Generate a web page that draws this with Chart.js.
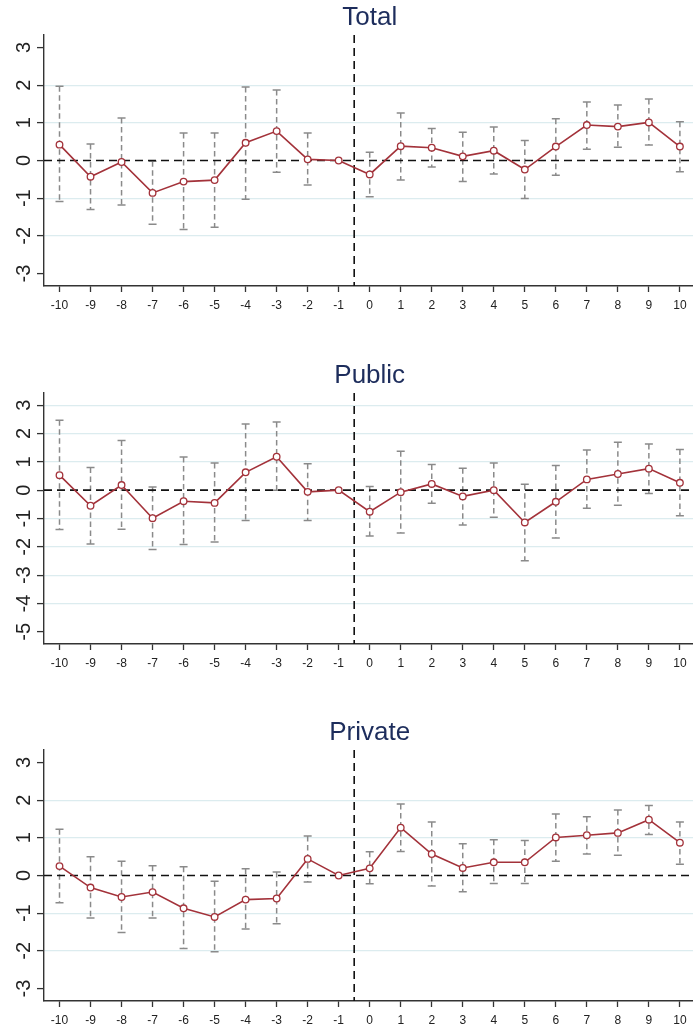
<!DOCTYPE html>
<html>
<head>
<meta charset="utf-8">
<title>Event-study estimates</title>
<script src="https://cdn.jsdelivr.net/npm/chart.js@4/dist/chart.umd.min.js"></script>
<style>
  html, body { margin: 0; padding: 0; background: #fff; overflow: hidden; width: 693px; height: 1030px; }
  .panel { position: absolute; left: 0; width: 700px; height: 320px; }
</style>
</head>
<body>
<div class="panel" style="top:0px"><canvas id="cTotal" width="700" height="320"></canvas></div>
<div class="panel" style="top:358px"><canvas id="cPublic" width="700" height="320"></canvas></div>
<div class="panel" style="top:715px"><canvas id="cPrivate" width="700" height="320"></canvas></div>

<script>
// Event time (years relative to treatment); -1 is the omitted reference period
const periods = [-10, -9, -8, -7, -6, -5, -4, -3, -2, -1, 0, 1, 2, 3, 4, 5, 6, 7, 8, 9, 10];

// Total: point estimates and 95% confidence bounds
const totalCoef = [0.42, -0.43, -0.04, -0.86, -0.56, -0.52, 0.47, 0.78, 0.03, 0, -0.37, 0.38, 0.34, 0.11, 0.26, -0.24, 0.37, 0.94, 0.90, 1.01, 0.37];
const totalLo   = [-1.09, -1.30, -1.18, -1.69, -1.83, -1.77, -1.03, -0.31, -0.65, null, -0.96, -0.52, -0.17, -0.56, -0.36, -1.01, -0.39, 0.30, 0.35, 0.41, -0.30];
const totalHi   = [1.97, 0.44, 1.13, -0.02, 0.73, 0.73, 1.95, 1.87, 0.73, null, 0.22, 1.26, 0.85, 0.75, 0.89, 0.53, 1.11, 1.55, 1.47, 1.63, 1.03];

// Public
const publicCoef = [0.53, -0.55, 0.18, -0.99, -0.39, -0.45, 0.63, 1.18, -0.06, 0, -0.76, -0.07, 0.22, -0.22, 0.00, -1.14, -0.41, 0.38, 0.57, 0.76, 0.26];
const publicLo   = [-1.39, -1.90, -1.38, -2.09, -1.92, -1.83, -1.07, 0.00, -1.07, null, -1.62, -1.51, -0.46, -1.23, -0.96, -2.49, -1.69, -0.64, -0.53, -0.12, -0.90];
const publicHi   = [2.47, 0.80, 1.75, 0.11, 1.17, 0.96, 2.34, 2.41, 0.93, null, 0.13, 1.37, 0.91, 0.77, 0.96, 0.21, 0.87, 1.42, 1.69, 1.63, 1.44];

// Private
const privateCoef = [0.25, -0.32, -0.57, -0.44, -0.87, -1.10, -0.64, -0.61, 0.44, 0, 0.19, 1.27, 0.57, 0.20, 0.35, 0.35, 1.01, 1.07, 1.13, 1.48, 0.87];
const privateLo   = [-0.72, -1.13, -1.51, -1.13, -1.94, -2.02, -1.42, -1.28, -0.17, null, -0.22, 0.64, -0.28, -0.43, -0.21, -0.21, 0.38, 0.57, 0.54, 1.09, 0.30];
const privateHi   = [1.23, 0.50, 0.38, 0.26, 0.23, -0.15, 0.18, 0.09, 1.05, null, 0.63, 1.90, 1.42, 0.84, 0.95, 0.93, 1.63, 1.56, 1.74, 1.86, 1.42];

// Axis tick labels
const xTicks = periods;
const yTicksSym = [-3, -2, -1, 0, 1, 2, 3];
const yTicksPublic = [-5, -4, -3, -2, -1, 0, 1, 2, 3];

// Tick values that also carry a horizontal grid line
const gridSym = [-2, -1, 1, 2];
const gridPublic = [-4, -3, -2, -1, 1, 2, 3];

const FONT = "'Liberation Sans', Arial, Helvetica, sans-serif";
const RED = '#a3323a';
const AXIS = '#333333';
const GRID = '#dcecef';

// Draws the reference lines (y = 0, treatment at x = -0.5) and the dashed CI bars
const eventStudyPlugin = {
  id: 'eventStudy',
  beforeDatasetsDraw(chart, args, opts) {
    const { ctx, chartArea: a, scales: { x, y } } = chart;
    ctx.save();
    ctx.beginPath();
    ctx.rect(a.left, a.top, a.right - a.left, a.bottom - a.top);
    ctx.clip();

    // confidence intervals
    ctx.strokeStyle = '#8a8a8a';
    ctx.lineWidth = 1.5;
    opts.lo.forEach((lo, i) => {
      const hi = opts.hi[i];
      if (lo === null || hi === null) return;
      const px = x.getPixelForValue(opts.x[i]);
      const pl = y.getPixelForValue(lo);
      const ph = y.getPixelForValue(hi);
      ctx.setLineDash([5.5, 3.5]);
      ctx.beginPath();
      ctx.moveTo(px, ph);
      ctx.lineTo(px, pl);
      ctx.stroke();
      ctx.setLineDash([]);
      ctx.beginPath();
      ctx.moveTo(px - 4, ph); ctx.lineTo(px + 4, ph);
      ctx.moveTo(px - 4, pl); ctx.lineTo(px + 4, pl);
      ctx.stroke();
    });

    // reference lines
    ctx.strokeStyle = '#111111';
    ctx.lineWidth = 1.6;
    ctx.setLineDash([8, 5]);
    const y0 = y.getPixelForValue(0);
    ctx.beginPath();
    ctx.moveTo(a.left, y0);
    ctx.lineTo(a.right, y0);
    ctx.stroke();
    const xv = x.getPixelForValue(opts.treatAt);
    ctx.beginPath();
    ctx.moveTo(xv, a.top);
    ctx.lineTo(xv, a.bottom);
    ctx.stroke();
    ctx.restore();
  }
};

function makePanel(id, title, coef, lo, hi, yTicks, gridValues, yMin, yMax) {
  new Chart(document.getElementById(id), {
    type: 'line',
    data: {
      datasets: [{
        data: periods.map((p, i) => ({ x: p, y: coef[i] })),
        borderColor: RED,
        borderWidth: 1.6,
        pointRadius: 3.3,
        pointHoverRadius: 3.3,
        pointBorderWidth: 1.3,
        pointBackgroundColor: '#ffffff',
        pointBorderColor: RED,
        tension: 0,
        clip: false
      }]
    },
    options: {
      responsive: false,
      animation: false,
      events: [],
      layout: { padding: 0 },
      plugins: {
        legend: { display: false },
        tooltip: { enabled: false },
        title: {
          display: true,
          text: title,
          fullSize: false,
          color: '#1d2d5c',
          font: { family: FONT, size: 26, weight: 'normal', lineHeight: 1.2 },
          padding: { top: 2.5, bottom: 1.3 }
        },
        eventStudy: { x: periods, lo: lo, hi: hi, treatAt: -0.5 }
      },
      scales: {
        x: {
          type: 'linear',
          min: -10.5,
          max: 10.5,
          afterBuildTicks: s => { s.ticks = xTicks.map(v => ({ value: v })); },
          afterFit: s => { s.height = 34; },
          border: { display: true, color: AXIS, width: 1.4 },
          grid: { drawOnChartArea: false, drawTicks: true, tickLength: 6, tickColor: AXIS, tickWidth: 1.3 },
          ticks: {
            autoSkip: false, maxRotation: 0, minRotation: 0, padding: 6,
            color: '#222222', font: { family: FONT, size: 12 },
            callback: v => String(v)
          }
        },
        y: {
          type: 'linear',
          min: yMin,
          max: yMax,
          afterBuildTicks: s => { s.ticks = yTicks.map(v => ({ value: v })); },
          afterFit: s => { s.width = 44; },
          border: { display: true, color: AXIS, width: 1.4 },
          grid: {
            drawTicks: true, tickLength: 7, tickColor: AXIS, tickWidth: 1.3, lineWidth: 1.2,
            color: c => (c.tick && gridValues.includes(c.tick.value)) ? GRID : 'rgba(0,0,0,0)'
          },
          ticks: {
            minRotation: 90, maxRotation: 90, crossAlign: 'center', padding: 4,
            color: '#222222', font: { family: FONT, size: 20 },
            callback: v => String(v)
          }
        }
      }
    },
    plugins: [eventStudyPlugin]
  });
}

makePanel('cTotal', 'Total', totalCoef, totalLo, totalHi, yTicksSym, gridSym, -3.33, 3.33);
makePanel('cPublic', 'Public', publicCoef, publicLo, publicHi, yTicksPublic, gridPublic, -5.43, 3.43);
makePanel('cPrivate', 'Private', privateCoef, privateLo, privateHi, yTicksSym, gridSym, -3.33, 3.33);
</script>
</body>
</html>
